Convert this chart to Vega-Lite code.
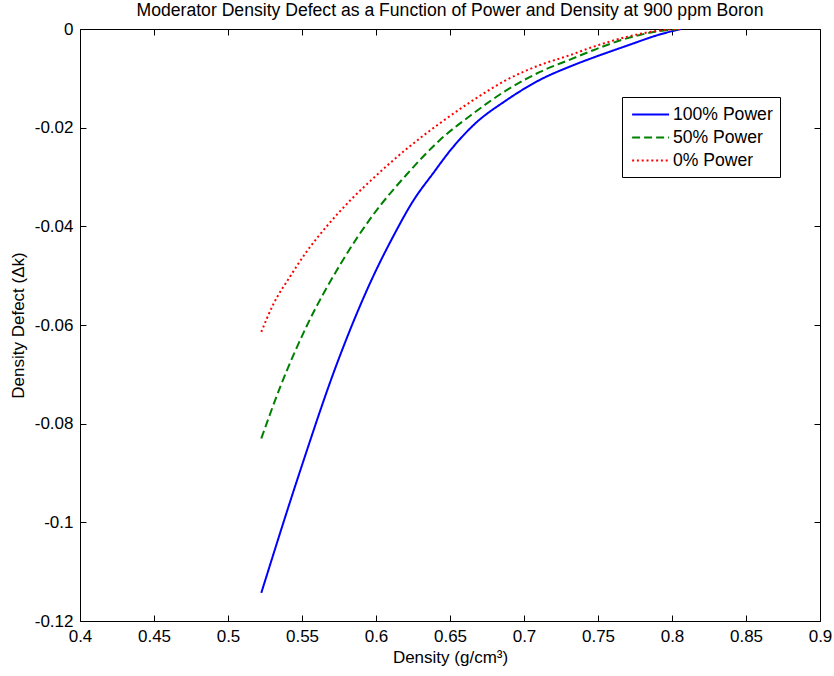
{
  "$schema": "https://vega.github.io/schema/vega-lite/v6.json",
  "width": 740,
  "height": 592,
  "autosize": {"type": "none"},
  "padding": {"left": 80, "top": 29, "right": 14, "bottom": 55},
  "background": "white",
  "title": {
    "text": "Moderator Density Defect as a Function of Power and Density at 900 ppm Boron",
    "font": "Liberation Sans",
    "fontSize": 17.6,
    "fontWeight": "normal",
    "color": "black",
    "anchor": "middle",
    "offset": 0
  },
  "config": {
    "view": {"stroke": "black", "strokeWidth": 1},
    "axis": {
      "grid": false,
      "domainColor": "black",
      "tickColor": "black",
      "labelColor": "black",
      "titleColor": "black",
      "labelFont": "Liberation Sans",
      "titleFont": "Liberation Sans",
      "labelFontSize": 17,
      "titleFontSize": 17,
      "titleFontWeight": "normal",
      "tickSize": -6
    }
  },
  "data": {
    "values": [
      {"series": "100% Power", "density": 0.5225, "defect": -0.1143},
      {"series": "100% Power", "density": 0.5486, "defect": -0.0897},
      {"series": "100% Power", "density": 0.5734, "defect": -0.0680},
      {"series": "100% Power", "density": 0.598, "defect": -0.0502},
      {"series": "100% Power", "density": 0.6117, "defect": -0.0420},
      {"series": "100% Power", "density": 0.6252, "defect": -0.0348},
      {"series": "100% Power", "density": 0.6387, "defect": -0.0292},
      {"series": "100% Power", "density": 0.6505, "defect": -0.0245},
      {"series": "100% Power", "density": 0.6658, "defect": -0.0195},
      {"series": "100% Power", "density": 0.6883, "defect": -0.0144},
      {"series": "100% Power", "density": 0.7108, "defect": -0.0103},
      {"series": "100% Power", "density": 0.7311, "defect": -0.0076},
      {"series": "100% Power", "density": 0.7468, "defect": -0.0058},
      {"series": "100% Power", "density": 0.7694, "defect": -0.0034},
      {"series": "100% Power", "density": 0.7919, "defect": -0.0011},
      {"series": "100% Power", "density": 0.806, "defect": 0},
      {"series": "50% Power", "density": 0.5225, "defect": -0.0830},
      {"series": "50% Power", "density": 0.5351, "defect": -0.0727},
      {"series": "50% Power", "density": 0.5532, "defect": -0.0602},
      {"series": "50% Power", "density": 0.5757, "defect": -0.0478},
      {"series": "50% Power", "density": 0.598, "defect": -0.0377},
      {"series": "50% Power", "density": 0.6207, "defect": -0.0295},
      {"series": "50% Power", "density": 0.6432, "defect": -0.0225},
      {"series": "50% Power", "density": 0.6658, "defect": -0.0171},
      {"series": "50% Power", "density": 0.6883, "defect": -0.0124},
      {"series": "50% Power", "density": 0.7108, "defect": -0.0087},
      {"series": "50% Power", "density": 0.7311, "defect": -0.0062},
      {"series": "50% Power", "density": 0.7468, "defect": -0.0043},
      {"series": "50% Power", "density": 0.7694, "defect": -0.0019},
      {"series": "50% Power", "density": 0.7919, "defect": -0.0004},
      {"series": "50% Power", "density": 0.806, "defect": 0},
      {"series": "0% Power", "density": 0.5225, "defect": -0.0614},
      {"series": "0% Power", "density": 0.5306, "defect": -0.0558},
      {"series": "0% Power", "density": 0.5419, "defect": -0.0502},
      {"series": "0% Power", "density": 0.5532, "defect": -0.0451},
      {"series": "0% Power", "density": 0.5667, "defect": -0.0400},
      {"series": "0% Power", "density": 0.5824, "defect": -0.0348},
      {"series": "0% Power", "density": 0.598, "defect": -0.0303},
      {"series": "0% Power", "density": 0.6207, "defect": -0.0243},
      {"series": "0% Power", "density": 0.6432, "defect": -0.0191},
      {"series": "0% Power", "density": 0.6658, "defect": -0.0144},
      {"series": "0% Power", "density": 0.6883, "defect": -0.0103},
      {"series": "0% Power", "density": 0.7108, "defect": -0.0073},
      {"series": "0% Power", "density": 0.7311, "defect": -0.0053},
      {"series": "0% Power", "density": 0.7468, "defect": -0.0036},
      {"series": "0% Power", "density": 0.7694, "defect": -0.0016},
      {"series": "0% Power", "density": 0.7919, "defect": -0.0003},
      {"series": "0% Power", "density": 0.806, "defect": 0}
    ]
  },
  "resolve": {"axis": {"x": "independent", "y": "independent"}},
  "layer": [
    {
      "mark": {"type": "line", "strokeWidth": 2, "interpolate": "monotone", "clip": true},
      "encoding": {
        "x": {
          "field": "density", "type": "quantitative",
          "scale": {"domain": [0.4, 0.9], "nice": false, "zero": false},
          "axis": {
            "orient": "bottom",
            "title": "Density (g/cm³)",
            "values": [0.4, 0.45, 0.5, 0.55, 0.6, 0.65, 0.7, 0.75, 0.8, 0.85, 0.9],
            "labelExpr": "'' + datum.value",
            "labelPadding": 13,
            "titlePadding": 5,
            "domain": false,
            "labelFlush": false
          }
        },
        "y": {
          "field": "defect", "type": "quantitative",
          "scale": {"domain": [-0.12, 0], "nice": false, "zero": false},
          "axis": {
            "orient": "left",
            "title": "Density Defect (Δk)",
            "values": [-0.12, -0.1, -0.08, -0.06, -0.04, -0.02, 0],
            "labelExpr": "'' + datum.value",
            "labelPadding": 13,
            "titlePadding": 7,
            "domain": false,
            "labelFlush": false
          }
        },
        "color": {
          "field": "series", "type": "nominal",
          "scale": {"domain": ["100% Power", "50% Power", "0% Power"], "range": ["#0000ff", "#008000", "#ff0000"]},
          "legend": {
            "title": null,
            "orient": "none",
            "legendX": 542,
            "legendY": 68,
            "symbolType": "M-0.8,0H3.2",
            "symbolSize": 342,
            "symbolStrokeWidth": 2,
            "symbolFillColor": "transparent",
            "labelFont": "Liberation Sans",
            "labelFontSize": 17.6,
            "labelColor": "black",
            "labelOffset": 23,
            "strokeColor": "black",
            "fillColor": "white",
            "padding": 7,
            "rowPadding": 3
          }
        },
        "strokeDash": {
          "field": "series", "type": "nominal",
          "scale": {"domain": ["100% Power", "50% Power", "0% Power"], "range": [[1, 0], [8, 4], [2, 2.8]]},
          "legend": null
        },
        "detail": {"field": "series"}
      }
    },
    {
      "mark": {"type": "line", "opacity": 0},
      "encoding": {
        "x": {
          "field": "density", "type": "quantitative",
          "axis": {
            "orient": "top", "title": null, "labels": false, "domain": false,
            "values": [0.4, 0.45, 0.5, 0.55, 0.6, 0.65, 0.7, 0.75, 0.8, 0.85, 0.9]
          }
        },
        "y": {
          "field": "defect", "type": "quantitative",
          "axis": {
            "orient": "right", "title": null, "labels": false, "domain": false,
            "values": [-0.12, -0.1, -0.08, -0.06, -0.04, -0.02, 0]
          }
        },
        "detail": {"field": "series"}
      }
    }
  ]
}
